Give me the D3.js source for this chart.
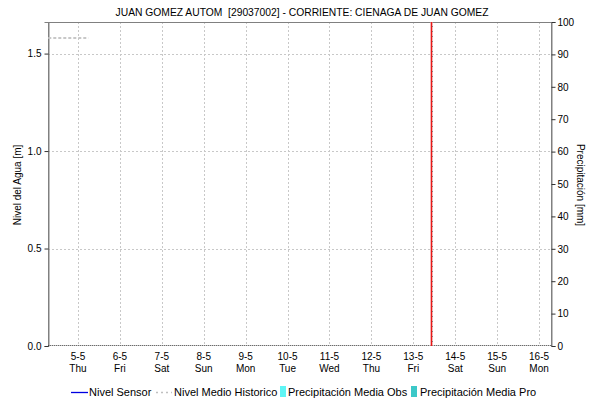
<!DOCTYPE html>
<html><head><meta charset="utf-8">
<script src="https://cdn.jsdelivr.net/npm/d3@7"></script>
<style>body{margin:0;background:#fff}svg{display:block}text{font-family:"Liberation Sans",Arial,sans-serif;white-space:pre}</style>
</head><body>
<script>
const title = "JUAN GOMEZ AUTOM  [29037002] - CORRIENTE: CIENAGA DE JUAN GOMEZ";
const dayLabels = ["5-5","6-5","7-5","8-5","9-5","10-5","11-5","12-5","13-5","14-5","15-5","16-5"];
const weekdays = ["Thu","Fri","Sat","Sun","Mon","Tue","Wed","Thu","Fri","Sat","Sun","Mon"];
const levelTicks = [0.0, 0.5, 1.0, 1.5];
const precipTicks = [0,10,20,30,40,50,60,70,80,90,100];
const historicDates = ["2023-05-04T07:00","2023-05-05T06:00"];
const historicValues = [1.58, 1.58];
const precipDates = ["2023-05-04T07:00","2023-05-16T07:00"];
const precipValues = [0, 0];
const nowDate = "2023-05-13T10:20";
const legendItems = ["Nivel Sensor","Nivel Medio Historico","Precipitación Media Obs","Precipitación Media Pro"];

const W=590,H=405, L=48,R=551,T=22,B=346;
const svg=d3.select("body").append("svg").attr("width",W).attr("height",H);
const x=d3.scaleTime().domain([new Date("2023-05-04T06:50"),new Date("2023-05-16T06:50")]).range([L,R]);
const y=d3.scaleLinear().domain([0,1.662]).range([B,T]);
const y2=d3.scaleLinear().domain([0,100]).range([B,T]);
const tickDates=dayLabels.map((d,i)=>new Date(2023,4,5+i));

// grid
const g=svg.append("g");
g.selectAll(".vg").data(tickDates).join("line").attr("x1",d=>Math.round(x(d))+.5).attr("x2",d=>Math.round(x(d))+.5)
 .attr("y1",T).attr("y2",B).attr("stroke","#c8c8c8").attr("stroke-dasharray","2,2");
g.selectAll(".hg").data(levelTicks.filter(d=>d>0)).join("line").attr("y1",d=>Math.round(y(d))+.5).attr("y2",d=>Math.round(y(d))+.5)
 .attr("x1",L).attr("x2",R).attr("stroke","#c8c8c8").attr("stroke-dasharray","2,2");

// frame
svg.append("path").attr("d",`M${L+.5},${B}V${T+.5}H${R+.5}V${B+.5}`).attr("fill","none").attr("stroke","#808080");

// axes
const ax=d3.axisLeft(y).tickValues(levelTicks).tickFormat(d3.format(".1f")).tickSize(4);
const axL=svg.append("g").attr("transform",`translate(${L+.5},0)`).call(ax);
const axR=svg.append("g").attr("transform",`translate(${R+.5},0)`).call(d3.axisRight(y2).tickValues(precipTicks).tickSize(4));
[axL,axR].forEach(a=>{a.select(".domain").attr("stroke","#808080");a.selectAll(".tick line").attr("stroke","#333");
 a.selectAll("text").attr("font-size",10).attr("fill","#000").attr("font-family","Liberation Sans, Arial, sans-serif");});
axR.selectAll("text").attr("x",6);

// x labels
const xl=svg.append("g");
tickDates.forEach((d,i)=>{
 xl.append("text").attr("x",x(d)).attr("y",360).attr("text-anchor","middle").attr("font-size",10).text(dayLabels[i]);
 xl.append("text").attr("x",x(d)).attr("y",372).attr("text-anchor","middle").attr("font-size",10).text(weekdays[i]);
});

// historic
const line=d3.line().x(d=>x(new Date(d[0]))).y(d=>y(d[1]));
svg.append("path").datum(historicDates.map((d,i)=>[d,historicValues[i]])).attr("d",line)
 .attr("fill","none").attr("stroke","#c8c8c8").attr("stroke-width",2).attr("stroke-dasharray","3,2");

// precip zero line
const line2=d3.line().x(d=>x(new Date(d[0]))).y(d=>y2(d[1]));
svg.append("path").datum(precipDates.map((d,i)=>[d,precipValues[i]])).attr("d",line2)
 .attr("fill","none").attr("stroke","#333").attr("stroke-width",1).attr("stroke-dasharray","1,1").attr("transform","translate(0,-0.5)");

// now line
const nx=Math.round(x(new Date(nowDate)));
svg.append("line").attr("x1",nx+.5).attr("x2",nx+.5).attr("y1",T).attr("y2",B).attr("stroke","#f08080").attr("stroke-width",2.2);
svg.append("line").attr("x1",nx+.5).attr("x2",nx+.5).attr("y1",T).attr("y2",B).attr("stroke","#e81818").attr("stroke-width",1);
svg.append("line").attr("x1",nx+1.5).attr("x2",nx+1.5).attr("y1",T+4).attr("y2",B).attr("stroke","#808080").attr("stroke-dasharray","1,4");

// title
svg.append("text").attr("x",302).attr("y",16).attr("text-anchor","middle").attr("font-size",10.3).text(title);
svg.append("text").attr("transform",`translate(21,185) rotate(-90)`).attr("text-anchor","middle").attr("font-size",10).text("Nivel del Agua [m]");
svg.append("text").attr("transform",`translate(577,185) rotate(90)`).attr("text-anchor","middle").attr("font-size",10).text("Precipitación [mm]");

// legend
const lg=svg.append("g");
lg.append("line").attr("x1",71).attr("x2",88).attr("y1",392.5).attr("y2",392.5).attr("stroke","#0000e0").attr("stroke-width",1.3);
lg.append("text").attr("x",89).attr("y",396).attr("font-size",11).text(legendItems[0]);
lg.append("line").attr("x1",156).attr("x2",172).attr("y1",392.5).attr("y2",392.5).attr("stroke","#c0c0c0").attr("stroke-width",1.5).attr("stroke-dasharray","2,3");
lg.append("text").attr("x",174).attr("y",396).attr("font-size",11).text(legendItems[1]);
lg.append("rect").attr("x",280).attr("y",386).attr("width",6).attr("height",11).attr("fill","#5ff5f5");
lg.append("text").attr("x",288).attr("y",396).attr("font-size",11).text(legendItems[2]);
lg.append("rect").attr("x",411).attr("y",386).attr("width",6).attr("height",11).attr("fill","#3cc8c8");
lg.append("text").attr("x",420).attr("y",396).attr("font-size",11).text(legendItems[3]);
</script>
</body></html>
